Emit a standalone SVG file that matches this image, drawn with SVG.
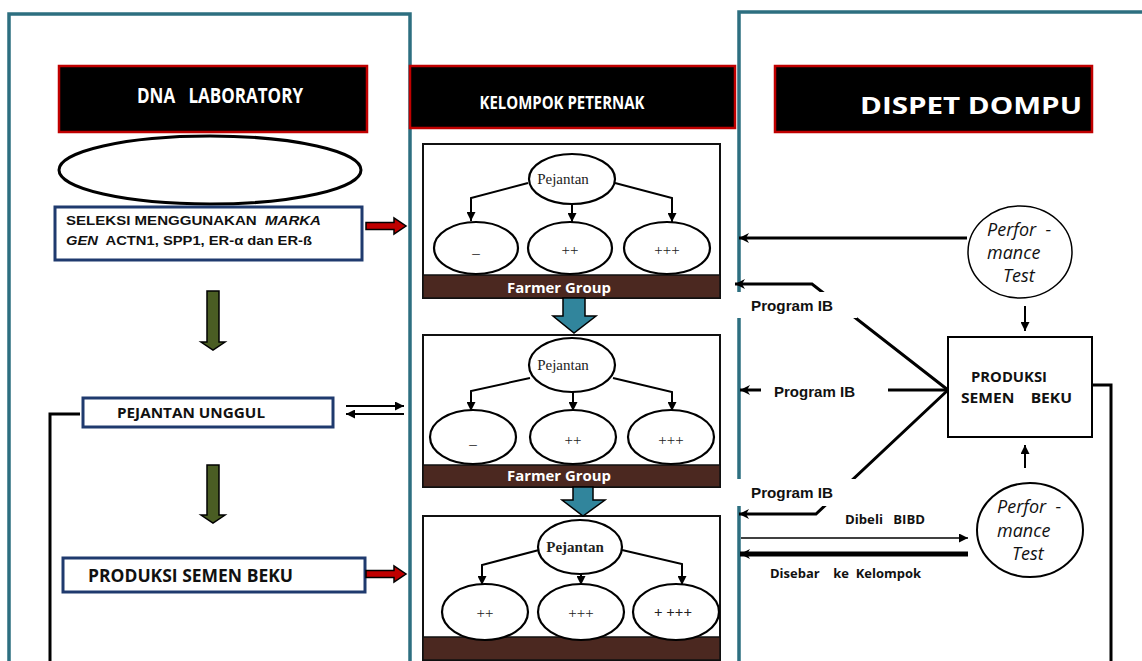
<svg xmlns="http://www.w3.org/2000/svg" width="1142" height="661" viewBox="0 0 1142 661">
<style>
text{white-space:pre}
.panel{fill:none;stroke:#2D6F80;stroke-width:3.5}
.hdr{fill:#000;stroke:#C00000;stroke-width:2.5}
.hdrt{fill:#fff;font-family:"Open Sans","Liberation Sans",sans-serif;font-weight:bold}
.bbox{fill:#fff;stroke:#1F3A6E;stroke-width:3}
.btxt{fill:#111;font-family:"Open Sans","Liberation Sans",sans-serif;font-weight:bold}
.atxt{fill:#111;font-family:"Liberation Sans",Arial,sans-serif;font-weight:bold}
.grp{fill:#fff;stroke:#111;stroke-width:2}
.band{fill:#4B2820;stroke:#111;stroke-width:1.5}
.bandt{fill:#fff;font-family:"Open Sans","Liberation Sans",sans-serif;font-weight:bold;font-size:14px}
.ell{fill:#fff;stroke:#000;stroke-width:2.2}
.ser{fill:#222;font-family:"Liberation Serif","Times New Roman",serif;font-size:15px}
.line{fill:none;stroke:#000;stroke-width:2}
.thick{fill:none;stroke:#000;stroke-width:3}
.red{fill:#C00000;stroke:#000;stroke-width:1.5}
.green{fill:#4A5D23;stroke:#000;stroke-width:1.5}
.teal{fill:#31859C;stroke:#000;stroke-width:1.5}
.pt{fill:#111;font-family:"Open Sans","Liberation Sans",sans-serif;font-style:italic;font-size:18px}
.wb{fill:#fff;stroke:none}
</style>
<defs>
<marker id="ah" viewBox="0 0 10 10" refX="10" refY="5" markerWidth="9" markerHeight="9" markerUnits="userSpaceOnUse" orient="auto"><path d="M0,0 L10,5 L0,10 z" fill="#000"/></marker>
<marker id="ahb" viewBox="0 0 10 10" refX="10" refY="5" markerWidth="11" markerHeight="10" markerUnits="userSpaceOnUse" orient="auto"><path d="M0,0 L10,5 L0,10 L3,5 z" fill="#000"/></marker>
</defs>

<g id="panels">
<rect class="panel" x="9" y="14" width="401" height="720"/>
<rect class="panel" x="739" y="12" width="500" height="720"/>
</g>

<g id="hdr-dna">
<rect class="hdr" x="59" y="66" width="308" height="66"/>
<text class="hdrt" x="220" y="103" font-size="21" text-anchor="middle" textLength="166" lengthAdjust="spacingAndGlyphs">DNA   LABORATORY</text>
</g>
<g id="hdr-kelompok">
<rect class="hdr" x="410" y="66" width="325" height="62"/>
<text class="hdrt" x="562" y="109" font-size="18" text-anchor="middle" textLength="165" lengthAdjust="spacingAndGlyphs">KELOMPOK PETERNAK</text>
</g>
<g id="hdr-dispet">
<rect class="hdr" x="775" y="66" width="317" height="66"/>
<text class="hdrt" x="971" y="114" font-size="24" text-anchor="middle" textLength="222" lengthAdjust="spacingAndGlyphs">DISPET DOMPU</text>
</g>

<g id="dna-ellipse">
<ellipse cx="210" cy="170" rx="151" ry="34" fill="#fff" stroke="#000" stroke-width="3"/>
</g>

<g id="seleksi">
<rect class="bbox" x="55" y="207" width="307" height="53"/>
<text class="atxt" x="66" y="225" font-size="13" textLength="255" lengthAdjust="spacingAndGlyphs">SELEKSI MENGGUNAKAN  <tspan font-style="italic">MARKA</tspan></text>
<text class="atxt" x="66" y="245" font-size="13" textLength="246" lengthAdjust="spacingAndGlyphs"><tspan font-style="italic">GEN</tspan>  ACTN1, SPP1, ER-α dan ER-ß</text>
</g>

<g id="pejantan-unggul">
<rect class="bbox" x="83" y="398" width="250" height="29"/>
<text class="btxt" x="117" y="418" font-size="14" textLength="148" lengthAdjust="spacingAndGlyphs">PEJANTAN UNGGUL</text>
</g>

<g id="produksi-left">
<rect class="bbox" x="63" y="558" width="302" height="34"/>
<text class="btxt" x="88" y="582" font-size="17" textLength="205" lengthAdjust="spacingAndGlyphs">PRODUKSI SEMEN BEKU</text>
</g>

<g id="group1">
<rect class="grp" x="423" y="144" width="297" height="154"/>
<rect class="band" x="423" y="275" width="297" height="23"/>
<text class="bandt" x="559" y="293" text-anchor="middle" textLength="104" lengthAdjust="spacingAndGlyphs">Farmer Group</text>
<ellipse class="ell" cx="572" cy="179" rx="43" ry="25"/>
<text class="ser" x="563" y="184" text-anchor="middle">Pejantan</text>
<ellipse class="ell" cx="476" cy="248" rx="42" ry="26"/>
<ellipse class="ell" cx="570" cy="248" rx="42" ry="26"/>
<ellipse class="ell" cx="667" cy="248" rx="43" ry="26"/>
<text class="ser" x="476" y="253" text-anchor="middle" font-size="14">_</text>
<text class="ser" x="570" y="255" text-anchor="middle" font-size="14">++</text>
<text class="ser" x="667" y="255" text-anchor="middle" font-size="14">+++</text>
</g>

<g id="group2">
<rect class="grp" x="423" y="335" width="297" height="152"/>
<rect class="band" x="423" y="465" width="297" height="22"/>
<text class="bandt" x="559" y="481" text-anchor="middle" textLength="104" lengthAdjust="spacingAndGlyphs">Farmer Group</text>
<ellipse class="ell" cx="572" cy="365" rx="43" ry="27"/>
<text class="ser" x="563" y="370" text-anchor="middle">Pejantan</text>
<ellipse class="ell" cx="473" cy="437" rx="43" ry="27"/>
<ellipse class="ell" cx="573" cy="437" rx="43" ry="27"/>
<ellipse class="ell" cx="671" cy="437" rx="43" ry="27"/>
<text class="ser" x="473" y="444" text-anchor="middle" font-size="14">_</text>
<text class="ser" x="573" y="445" text-anchor="middle" font-size="14">++</text>
<text class="ser" x="671" y="445" text-anchor="middle" font-size="14">+++</text>
</g>

<g id="group3">
<rect class="grp" x="423" y="516" width="297" height="144"/>
<rect class="band" x="423" y="637" width="297" height="23"/>
<ellipse class="ell" cx="580" cy="547" rx="42" ry="27"/>
<text class="ser" x="575" y="552" text-anchor="middle" font-weight="bold">Pejantan</text>
<ellipse class="ell" cx="485" cy="612" rx="43" ry="28"/>
<ellipse class="ell" cx="581" cy="612" rx="43" ry="28"/>
<ellipse class="ell" cx="676" cy="612" rx="43" ry="28"/>
<text class="ser" x="485" y="618" text-anchor="middle" font-size="14">++</text>
<text class="ser" x="581" y="618" text-anchor="middle" font-size="14">+++</text>
<text class="ser" x="673" y="617" text-anchor="middle" font-size="14" font-weight="bold">+ +++</text>
</g>

<g id="perf1">
<ellipse cx="1020" cy="252" rx="52" ry="46" fill="#fff" stroke="#000" stroke-width="1.5"/>
<text class="pt" x="987" y="236">Perfor  -</text>
<text class="pt" x="987" y="259">mance</text>
<text class="pt" x="1003" y="282">Test</text>
</g>

<g id="produksi-right">
<rect x="948" y="337" width="144" height="100" fill="#fff" stroke="#000" stroke-width="2"/>
<text class="btxt" x="971" y="382" font-size="14" textLength="76" lengthAdjust="spacingAndGlyphs">PRODUKSI</text>
<text class="btxt" x="961" y="403" font-size="14" textLength="111" lengthAdjust="spacingAndGlyphs">SEMEN    BEKU</text>
</g>

<g id="perf2">
<ellipse cx="1030" cy="530" rx="53" ry="47" fill="#fff" stroke="#000" stroke-width="2"/>
<text class="pt" x="997" y="513">Perfor  -</text>
<text class="pt" x="997" y="537">mance</text>
<text class="pt" x="1012" y="560">Test</text>
</g>

<g id="connectors">
<path class="red" d="M366,222.5 H394 V218 L406,226 L394,234 V229.5 H366 Z"/>
<path class="red" d="M366,570.5 H394 V566 L406,574 L394,582 V577.5 H366 Z"/>
<path class="green" d="M207,291 H219 V342 H225 L213,350 L201,342 H207 Z"/>
<path class="green" d="M207,465 H219 V515 H225 L213,523 L201,515 H207 Z"/>
<line class="line" x1="346" y1="406" x2="404" y2="406" marker-end="url(#ah)"/>
<line class="line" x1="404" y1="414" x2="346" y2="414" marker-end="url(#ah)"/>
<polyline class="thick" points="80,414 50,414 50,670"/>
<path class="teal" d="M563,298 H585 V316 H596 L574,333 L553,316 H563 Z"/>
<path class="teal" d="M573,487 H593 V500 H605 L583,516 L562,500 H573 Z"/>
<polyline class="line" points="528,183 471,198 471,221" marker-end="url(#ah)"/>
<line class="line" x1="572" y1="204" x2="572" y2="222" marker-end="url(#ah)"/>
<polyline class="line" points="615,183 672,198 672,222" marker-end="url(#ah)"/>
<polyline class="line" points="530,378 471,391 471,411" marker-end="url(#ah)"/>
<line class="line" x1="573" y1="392" x2="573" y2="411" marker-end="url(#ah)"/>
<polyline class="line" points="613,378 672,392 672,411" marker-end="url(#ah)"/>
<polyline class="line" points="539,550 482,565 482,585" marker-end="url(#ah)"/>
<line class="line" x1="581" y1="574" x2="581" y2="585" marker-end="url(#ah)"/>
<polyline class="line" points="622,550 682,564 682,585" marker-end="url(#ah)"/>
<line class="thick" x1="967" y1="238" x2="739" y2="238" marker-end="url(#ahb)"/>
<line class="line" x1="1025" y1="306" x2="1025" y2="331" marker-end="url(#ah)"/>
<line class="line" x1="1025" y1="468" x2="1025" y2="445" marker-end="url(#ah)"/>
<polyline class="thick" points="1092,385 1111,385 1111,670"/>
<polyline class="thick" points="948,390 812,284 735,284" marker-end="url(#ahb)"/>
<polyline class="thick" points="948,390 816,514 739,514" marker-end="url(#ahb)"/>
<line class="thick" x1="948" y1="390" x2="888" y2="390"/>
<line class="thick" x1="761" y1="390" x2="740" y2="390" marker-end="url(#ahb)"/>
<line x1="741" y1="538" x2="968" y2="538" stroke="#000" stroke-width="1.5" marker-end="url(#ah)"/>
<line x1="968" y1="554" x2="740" y2="554" stroke="#000" stroke-width="5" marker-end="url(#ahb)"/>
</g>

<g id="labels">
<rect class="wb" x="736" y="292" width="121" height="26"/>
<text class="atxt" x="751" y="311" font-size="15" textLength="82" lengthAdjust="spacingAndGlyphs">Program IB</text>
<text class="atxt" x="774" y="397" font-size="15" textLength="81" lengthAdjust="spacingAndGlyphs">Program IB</text>
<rect class="wb" x="736" y="479" width="121" height="27"/>
<text class="atxt" x="751" y="498" font-size="15" textLength="82" lengthAdjust="spacingAndGlyphs">Program IB</text>
<text class="btxt" x="845" y="524" font-size="13" textLength="80" lengthAdjust="spacingAndGlyphs">Dibeli   BIBD</text>
<text class="btxt" x="770" y="578" font-size="13" textLength="151" lengthAdjust="spacingAndGlyphs">Disebar    ke  Kelompok</text>
</g>
</svg>
